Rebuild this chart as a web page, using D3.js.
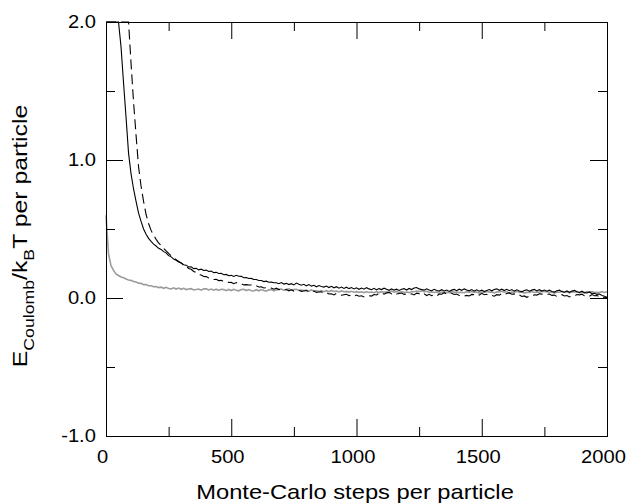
<!DOCTYPE html>
<html><head><meta charset="utf-8">
<script src="https://cdn.jsdelivr.net/npm/d3@7"></script>
<style>
html,body{margin:0;padding:0;background:#fff;}
svg text{font-family:"Liberation Sans",Arial,Helvetica,sans-serif;fill:#000;}
</style></head><body>
<svg id="chart" width="626" height="504"></svg>
<script>
// Monte-Carlo steps per particle (sampling grid)
const steps = [
0,10,20,30,40,50,60,70,80,90,
100,110,120,130,140,150,160,170,180,190,
200,210,220,230,240,250,260,270,280,290,
300,310,320,330,340,350,360,370,380,390,
400,410,420,430,440,450,460,470,480,490,
500,510,520,530,540,550,560,570,580,590,
600,610,620,630,640,650,660,670,680,690,
700,710,720,730,740,750,760,770,780,790,
800,810,820,830,840,850,860,870,880,890,
900,910,920,930,940,950,960,970,980,990,
1000,1010,1020,1030,1040,1050,1060,1070,1080,1090,
1100,1110,1120,1130,1140,1150,1160,1170,1180,1190,
1200,1210,1220,1230,1240,1250,1260,1270,1280,1290,
1300,1310,1320,1330,1340,1350,1360,1370,1380,1390,
1400,1410,1420,1430,1440,1450,1460,1470,1480,1490,
1500,1510,1520,1530,1540,1550,1560,1570,1580,1590,
1600,1610,1620,1630,1640,1650,1660,1670,1680,1690,
1700,1710,1720,1730,1740,1750,1760,1770,1780,1790,
1800,1810,1820,1830,1840,1850,1860,1870,1880,1890,
1900,1910,1920,1930,1940,1950,1960,1970,1980,1990,
2000];

// black solid curve
const solidValues = [
6.0,4.6,3.6,2.9,2.45,2.08,1.82,1.56,1.31,1.05,
0.90,0.79,0.70,0.615,0.555,0.50,0.462,0.432,0.41,0.39,
0.377,0.360,0.352,0.336,0.327,0.307,0.298,0.282,0.273,0.260,
0.254,0.241,0.238,0.225,0.226,0.213,0.215,0.204,0.209,0.199,
0.202,0.192,0.195,0.184,0.186,0.178,0.179,0.169,0.171,0.161,
0.164,0.156,0.165,0.158,0.157,0.147,0.149,0.141,0.142,0.134,
0.134,0.127,0.127,0.119,0.122,0.114,0.115,0.111,0.111,0.104,
0.112,0.101,0.106,0.097,0.104,0.095,0.108,0.100,0.093,0.099,
0.088,0.097,0.086,0.092,0.081,0.090,0.084,0.079,0.087,0.076,
0.085,0.074,0.082,0.071,0.079,0.069,0.078,0.068,0.076,0.066,
0.074,0.063,0.072,0.064,0.075,0.066,0.060,0.070,0.059,0.068,
0.061,0.071,0.063,0.056,0.066,0.057,0.064,0.055,0.063,0.068,
0.058,0.069,0.061,0.072,0.076,0.066,0.062,0.057,0.067,0.058,
0.053,0.063,0.055,0.050,0.060,0.051,0.058,0.048,0.057,0.062,
0.053,0.064,0.056,0.066,0.058,0.052,0.061,0.050,0.059,0.049,
0.057,0.047,0.055,0.061,0.052,0.062,0.066,0.056,0.064,0.054,
0.063,0.053,0.061,0.050,0.059,0.051,0.045,0.055,0.059,0.049,
0.057,0.062,0.051,0.060,0.050,0.058,0.049,0.057,0.047,0.043,
0.053,0.057,0.046,0.042,0.051,0.041,0.050,0.055,0.045,0.040,
0.049,0.039,0.036,0.044,0.031,0.034,0.026,0.029,0.018,0.013,
0.006];

// black dashed curve
const dashedValues = [
8.0,6.9,5.8,4.8,3.9,3.25,2.8,2.5,2.24,2.0,
1.70,1.42,1.18,0.95,0.81,0.70,0.605,0.54,0.49,0.455,
0.425,0.40,0.38,0.36,0.341,0.323,0.306,0.291,0.278,0.265,
0.254,0.238,0.231,0.214,0.208,0.192,0.186,0.171,0.166,0.156,
0.155,0.145,0.144,0.134,0.135,0.126,0.128,0.119,0.121,0.112,
0.113,0.104,0.112,0.102,0.103,0.095,0.097,0.094,0.094,0.086,
0.088,0.080,0.081,0.073,0.074,0.071,0.072,0.064,0.071,0.061,
0.062,0.056,0.061,0.052,0.059,0.050,0.054,0.057,0.048,0.051,
0.054,0.044,0.048,0.050,0.040,0.043,0.045,0.034,0.038,0.029,
0.031,0.022,0.033,0.025,0.020,0.024,0.027,0.017,0.021,0.012,
0.021,0.013,0.016,0.008,0.012,0.017,0.014,0.025,0.022,0.035,
0.038,0.028,0.037,0.041,0.030,0.039,0.029,0.033,0.036,0.026,
0.029,0.024,0.030,0.022,0.035,0.031,0.020,0.030,0.018,0.027,
0.017,0.021,0.014,0.029,0.027,0.038,0.028,0.039,0.035,0.025,
0.028,0.018,0.020,0.013,0.019,0.015,0.026,0.024,0.030,0.021,
0.034,0.024,0.027,0.015,0.018,0.013,0.024,0.021,0.032,0.023,
0.033,0.037,0.027,0.030,0.019,0.022,0.011,0.015,0.005,0.013,
0.013,0.023,0.021,0.031,0.028,0.032,0.026,0.029,0.019,0.021,
0.011,0.020,0.024,0.015,0.018,0.008,0.016,0.015,0.025,0.023,
0.027,0.016,0.018,0.013,0.025,0.016,0.018,0.008,0.011,0.001,
0.003];

// grey curve
const greyValues = [
0.60,0.32,0.235,0.20,0.175,0.163,0.152,0.146,0.138,0.131,
0.128,0.119,0.116,0.107,0.106,0.097,0.097,0.089,0.089,0.082,
0.083,0.075,0.079,0.070,0.077,0.069,0.066,0.074,0.065,0.072,
0.063,0.070,0.061,0.065,0.068,0.058,0.062,0.065,0.057,0.066,
0.067,0.058,0.065,0.057,0.064,0.055,0.063,0.061,0.053,0.062,
0.054,0.063,0.056,0.052,0.061,0.063,0.054,0.061,0.053,0.051,
0.060,0.052,0.061,0.054,0.050,0.059,0.061,0.052,0.059,0.063,
0.065,0.057,0.064,0.066,0.057,0.061,0.063,0.055,0.058,0.054,
0.057,0.049,0.058,0.050,0.053,0.047,0.054,0.046,0.053,0.046,
0.055,0.047,0.050,0.044,0.051,0.045,0.048,0.043,0.049,0.042,
0.046,0.041,0.045,0.039,0.045,0.040,0.043,0.038,0.046,0.039,
0.046,0.042,0.045,0.041,0.049,0.042,0.048,0.040,0.047,0.040,
0.043,0.039,0.047,0.045,0.050,0.046,0.053,0.046,0.049,0.041,
0.044,0.040,0.043,0.035,0.043,0.041,0.042,0.039,0.047,0.041,
0.043,0.039,0.042,0.038,0.046,0.040,0.047,0.041,0.043,0.036,
0.043,0.040,0.048,0.042,0.044,0.037,0.044,0.043,0.049,0.042,
0.045,0.037,0.043,0.042,0.048,0.041,0.044,0.036,0.042,0.041,
0.047,0.040,0.043,0.041,0.048,0.046,0.047,0.041,0.043,0.036,
0.043,0.042,0.049,0.042,0.045,0.037,0.044,0.043,0.046,0.038,
0.041,0.039,0.046,0.044,0.046,0.039,0.041,0.039,0.046,0.040,
0.045];

const xMajorTicks = [0, 500, 1000, 1500, 2000];
const xMinorTicks = [250, 750, 1250, 1750];
const yMajorTicks = [-1, 0, 1, 2];
const yMinorTicks = [-0.5, 0.5, 1.5];
const xTitle = "Monte-Carlo steps per particle";

const svg = d3.select('#chart');
const FONT = '"Liberation Sans", Arial, Helvetica, sans-serif';
const SX = 1.12;   // horizontal stretch of the reference lettering

const x = d3.scaleLinear().domain([0, 2000]).range([106, 607]);
const y = d3.scaleLinear().domain([-1, 2]).range([436, 22]);
const yc = y.copy().clamp(true);

const fmtY = d => d.toFixed(1);

// ---- data lines ----
function pathFor(vals) {
  return d3.line().x((d, i) => x(steps[i])).y(d => yc(d))(vals);
}
const lines = svg.append('g');
lines.append('path').attr('d', pathFor(greyValues))
  .attr('fill', 'none').attr('stroke', '#9b9b9b').attr('stroke-width', 1.6);
lines.append('path').attr('d', pathFor(dashedValues))
  .attr('fill', 'none').attr('stroke', '#000').attr('stroke-width', 1.1)
  .attr('stroke-dasharray', '10,5');
lines.append('path').attr('d', pathFor(solidValues))
  .attr('fill', 'none').attr('stroke', '#000').attr('stroke-width', 1.1);

// ---- axes (ticks inward on all four sides) ----
function addAxis(gen, tx, ty) {
  const g = svg.append('g').attr('transform', `translate(${tx},${ty})`).call(gen);
  g.attr('font-family', FONT).attr('font-size', 18);
  g.selectAll('path.domain').attr('stroke', '#000').attr('stroke-width', 1);
  g.selectAll('.tick line').attr('stroke', '#000').attr('stroke-width', 1);
  return g;
}
// bottom
const gb = addAxis(d3.axisBottom(x).tickValues(xMajorTicks).tickSize(-17).tickSizeOuter(0)
  .tickPadding(14).tickFormat(d3.format('d')), 0, 436);
gb.selectAll('.tick text').attr('transform', `translate(-4,0) scale(${SX},1)`);
addAxis(d3.axisBottom(x).tickValues(xMinorTicks).tickSize(-9).tickSizeOuter(0).tickFormat(''), 0, 436);
// top
addAxis(d3.axisTop(x).tickValues(xMajorTicks).tickSize(-17).tickSizeOuter(0).tickFormat(''), 0, 22);
addAxis(d3.axisTop(x).tickValues(xMinorTicks).tickSize(-9).tickSizeOuter(0).tickFormat(''), 0, 22);
// left
const gl = addAxis(d3.axisLeft(y).tickValues(yMajorTicks).tickSize(-17).tickSizeOuter(0)
  .tickPadding(9).tickFormat(fmtY), 106, 0);
gl.selectAll('.tick text').attr('transform', `scale(${SX},1)`);
addAxis(d3.axisLeft(y).tickValues(yMinorTicks).tickSize(-9).tickSizeOuter(0).tickFormat(''), 106, 0);
// right
addAxis(d3.axisRight(y).tickValues(yMajorTicks).tickSize(-17).tickSizeOuter(0).tickFormat(''), 607, 0);
addAxis(d3.axisRight(y).tickValues(yMinorTicks).tickSize(-9).tickSizeOuter(0).tickFormat(''), 607, 0);

// ---- axis titles ----
svg.append('text')
  .attr('transform', `translate(355,499) scale(1.13,1)`)
  .attr('text-anchor', 'middle').attr('font-size', 21)
  .text(xTitle);

const yt = svg.append('text')
  .attr('transform', `translate(27,236) rotate(-90) scale(1.18,1)`)
  .attr('text-anchor', 'middle').attr('font-size', 21);
yt.append('tspan').text('E');
yt.append('tspan').attr('font-size', 15).attr('dy', 7).text('Coulomb');
yt.append('tspan').attr('dy', -7).text('/k');
yt.append('tspan').attr('font-size', 15).attr('dy', 7).text('B');
yt.append('tspan').attr('dy', -7).text('T per particle');
</script>
</body></html>
